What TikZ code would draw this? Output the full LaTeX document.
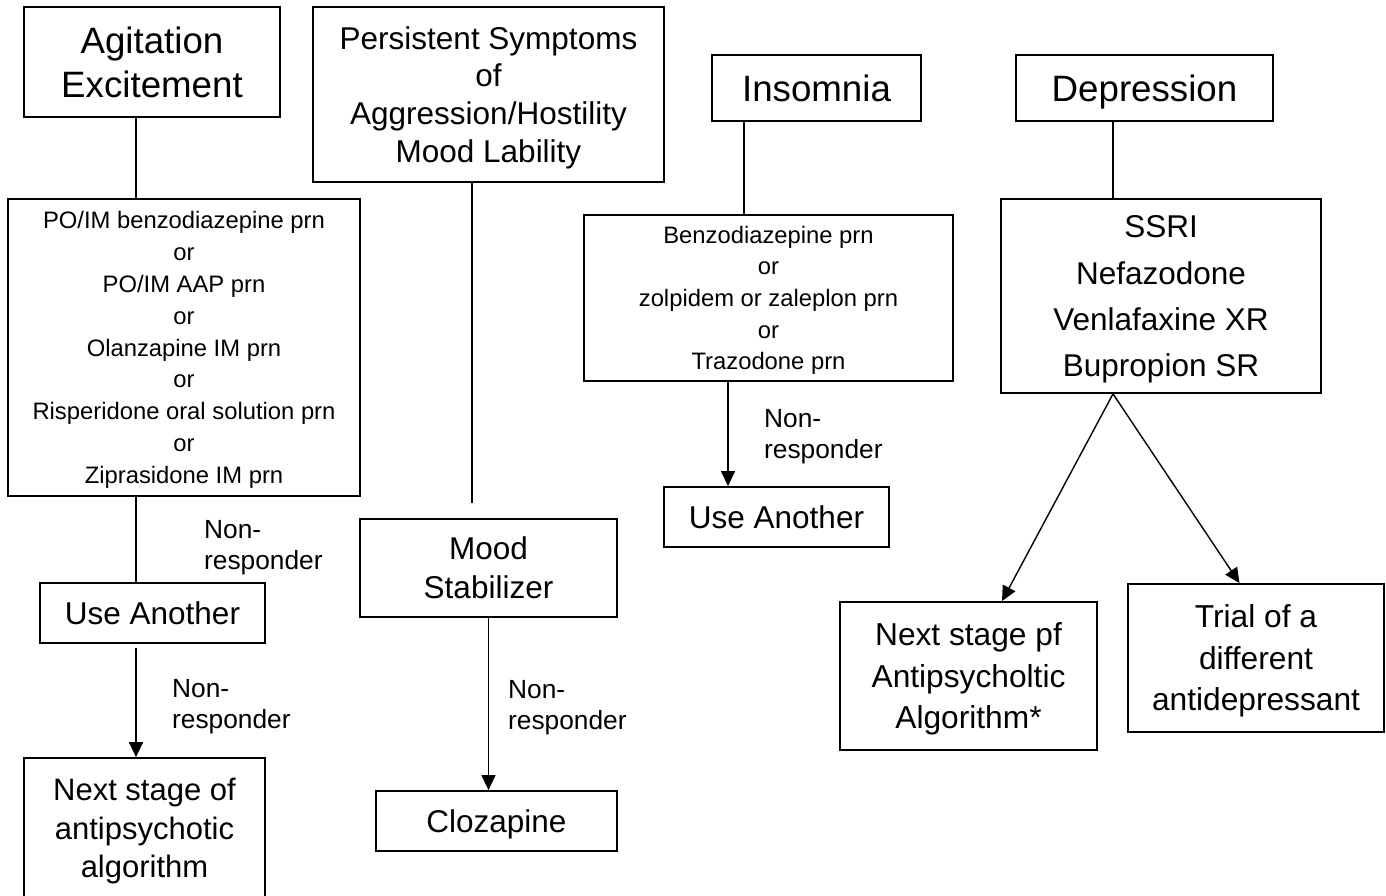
\documentclass[tikz,border=0pt]{standalone}
\usepackage{fontspec}
\setmainfont{Liberation Sans}
\usetikzlibrary{arrows.meta}
\newcommand\hstr{\rule{0pt}{0.966em}}
\newcommand\dstr{\rule[-0.25em]{0pt}{0.25em}}
\tikzset{
  box/.style={draw, line width=1.8pt, inner sep=0pt, align=center, rectangle},
  conn/.style={line width=1.4pt},
  arr/.style={conn, -{Triangle[length=15pt,width=14pt]}},
  lbl/.style={anchor=north west, inner sep=0pt, align=left, font=\fontsize{26.3}{31}\selectfont},
  big/.style={font=\fontsize{36.7}{44}\selectfont},
  list/.style={font=\fontsize{23.8}{31.7}\selectfont}
}
\begin{document}
\begin{tikzpicture}[x=1pt,y=-1pt]
\fill[white] (0,0) rectangle (1386,895);
\useasboundingbox (0,0) rectangle (1386,895);

% top row
\node[box, big, minimum width=256pt, minimum height=110pt] (agit) at (152,62)
  {\hstr Agitation\\Excitement\dstr};
\node[box, font=\fontsize{31.5}{37.7}\selectfont, minimum width=351pt, minimum height=175pt] (pers) at (488.5,94.5)
  {\hstr Persistent Symptoms\\of\\Aggression/Hostility\\Mood Lability\dstr};
\node[box, big, minimum width=209pt, minimum height=66pt] (ins) at (816.5,88)
  {\hstr Insomnia\dstr};
\node[box, big, minimum width=257pt, minimum height=66pt] (dep) at (1144.5,88)
  {\hstr Depression\dstr};

% second row
\node[box, list, font=\fontsize{23.8}{31.8}\selectfont, minimum width=352pt, minimum height=297pt] (benzo) at (184,347.5)
  {\hstr PO/IM benzodiazepine prn\\or\\PO/IM AAP prn\\or\\Olanzapine IM prn\\or\\Risperidone oral solution prn\\or\\Ziprasidone IM prn\dstr};
\node[box, list, minimum width=369pt, minimum height=166pt] (inslist) at (768.5,298)
  {\hstr Benzodiazepine prn\\or\\zolpidem or zaleplon prn\\or\\Trazodone prn\dstr};
\node[box, font=\fontsize{31.5}{46.3}\selectfont, minimum width=320pt, minimum height=194pt] (ssri) at (1161,296)
  {\hstr SSRI\\Nefazodone\\Venlafaxine XR\\Bupropion SR\dstr};

% lower boxes
\node[box, font=\fontsize{31.5}{38}\selectfont, minimum width=225pt, minimum height=60pt] (useA) at (152.5,613)
  {\hstr Use Another\dstr};
\node[box, font=\fontsize{31.5}{39}\selectfont, minimum width=257pt, minimum height=98pt] (mood) at (488.5,568)
  {\hstr Mood\\Stabilizer\dstr};
\node[box, font=\fontsize{31.5}{38}\selectfont, minimum width=225pt, minimum height=60pt] (useB) at (776.5,517)
  {\hstr Use Another\dstr};
\node[box, font=\fontsize{31}{38.5}\selectfont, minimum width=241pt, minimum height=140pt] (nextL) at (144.5,828)
  {\hstr Next stage of\\antipsychotic\\algorithm\dstr};
\node[box, font=\fontsize{31.5}{38}\selectfont, minimum width=241pt, minimum height=60pt] (cloz) at (496.5,821)
  {\hstr Clozapine\dstr};
\node[box, font=\fontsize{31.7}{41.5}\selectfont, minimum width=257pt, minimum height=148pt] (nextR) at (968.5,676)
  {\hstr Next stage pf\\Antipsycholtic\\Algorithm*\dstr};
\node[box, font=\fontsize{31.7}{41.5}\selectfont, minimum width=256pt, minimum height=148pt] (trial) at (1256,658)
  {\hstr Trial of a\\different\\antidepressant\dstr};

% x positions of connectors
\coordinate (xa) at (136,0);
\coordinate (xi) at (744,0);
\coordinate (xu) at (728,0);
\coordinate (xd) at (1113,0);
\coordinate (xr1) at (1002,0);
\coordinate (xr2) at (1239.5,0);
\coordinate (pend) at (472,503);

% connectors
\draw[conn] (agit.south -| xa) -- (benzo.north -| xa);
\draw[conn] (benzo.south -| xa) -- (useA.north -| xa);
\draw[arr, shorten <=4pt] (useA.south -| xa) -- (nextL.north -| xa);
\draw[conn] (pers.south -| pend) -- (pend);
\draw[arr] (mood.south) -- (mood.south |- cloz.north);
\draw[conn] (ins.south -| xi) -- (inslist.north -| xi);
\draw[arr] (inslist.south -| xu) -- (useB.north -| xu);
\draw[conn] (dep.south -| xd) -- (ssri.north -| xd);
\draw[arr] (ssri.south -| xd) -- (nextR.north -| xr1);
\draw[arr] (ssri.south -| xd) -- (trial.north -| xr2);

% labels
\node[lbl] (nr1) at (204,520.2) {Non-\\responder};
\node[lbl] (nr2) at (172,679.2) {Non-\\responder};
\node[lbl] (nr3) at (508,680.2) {Non-\\responder};
\node[lbl] (nr4) at (764,409.2) {Non-\\responder};
\end{tikzpicture}
\end{document}
